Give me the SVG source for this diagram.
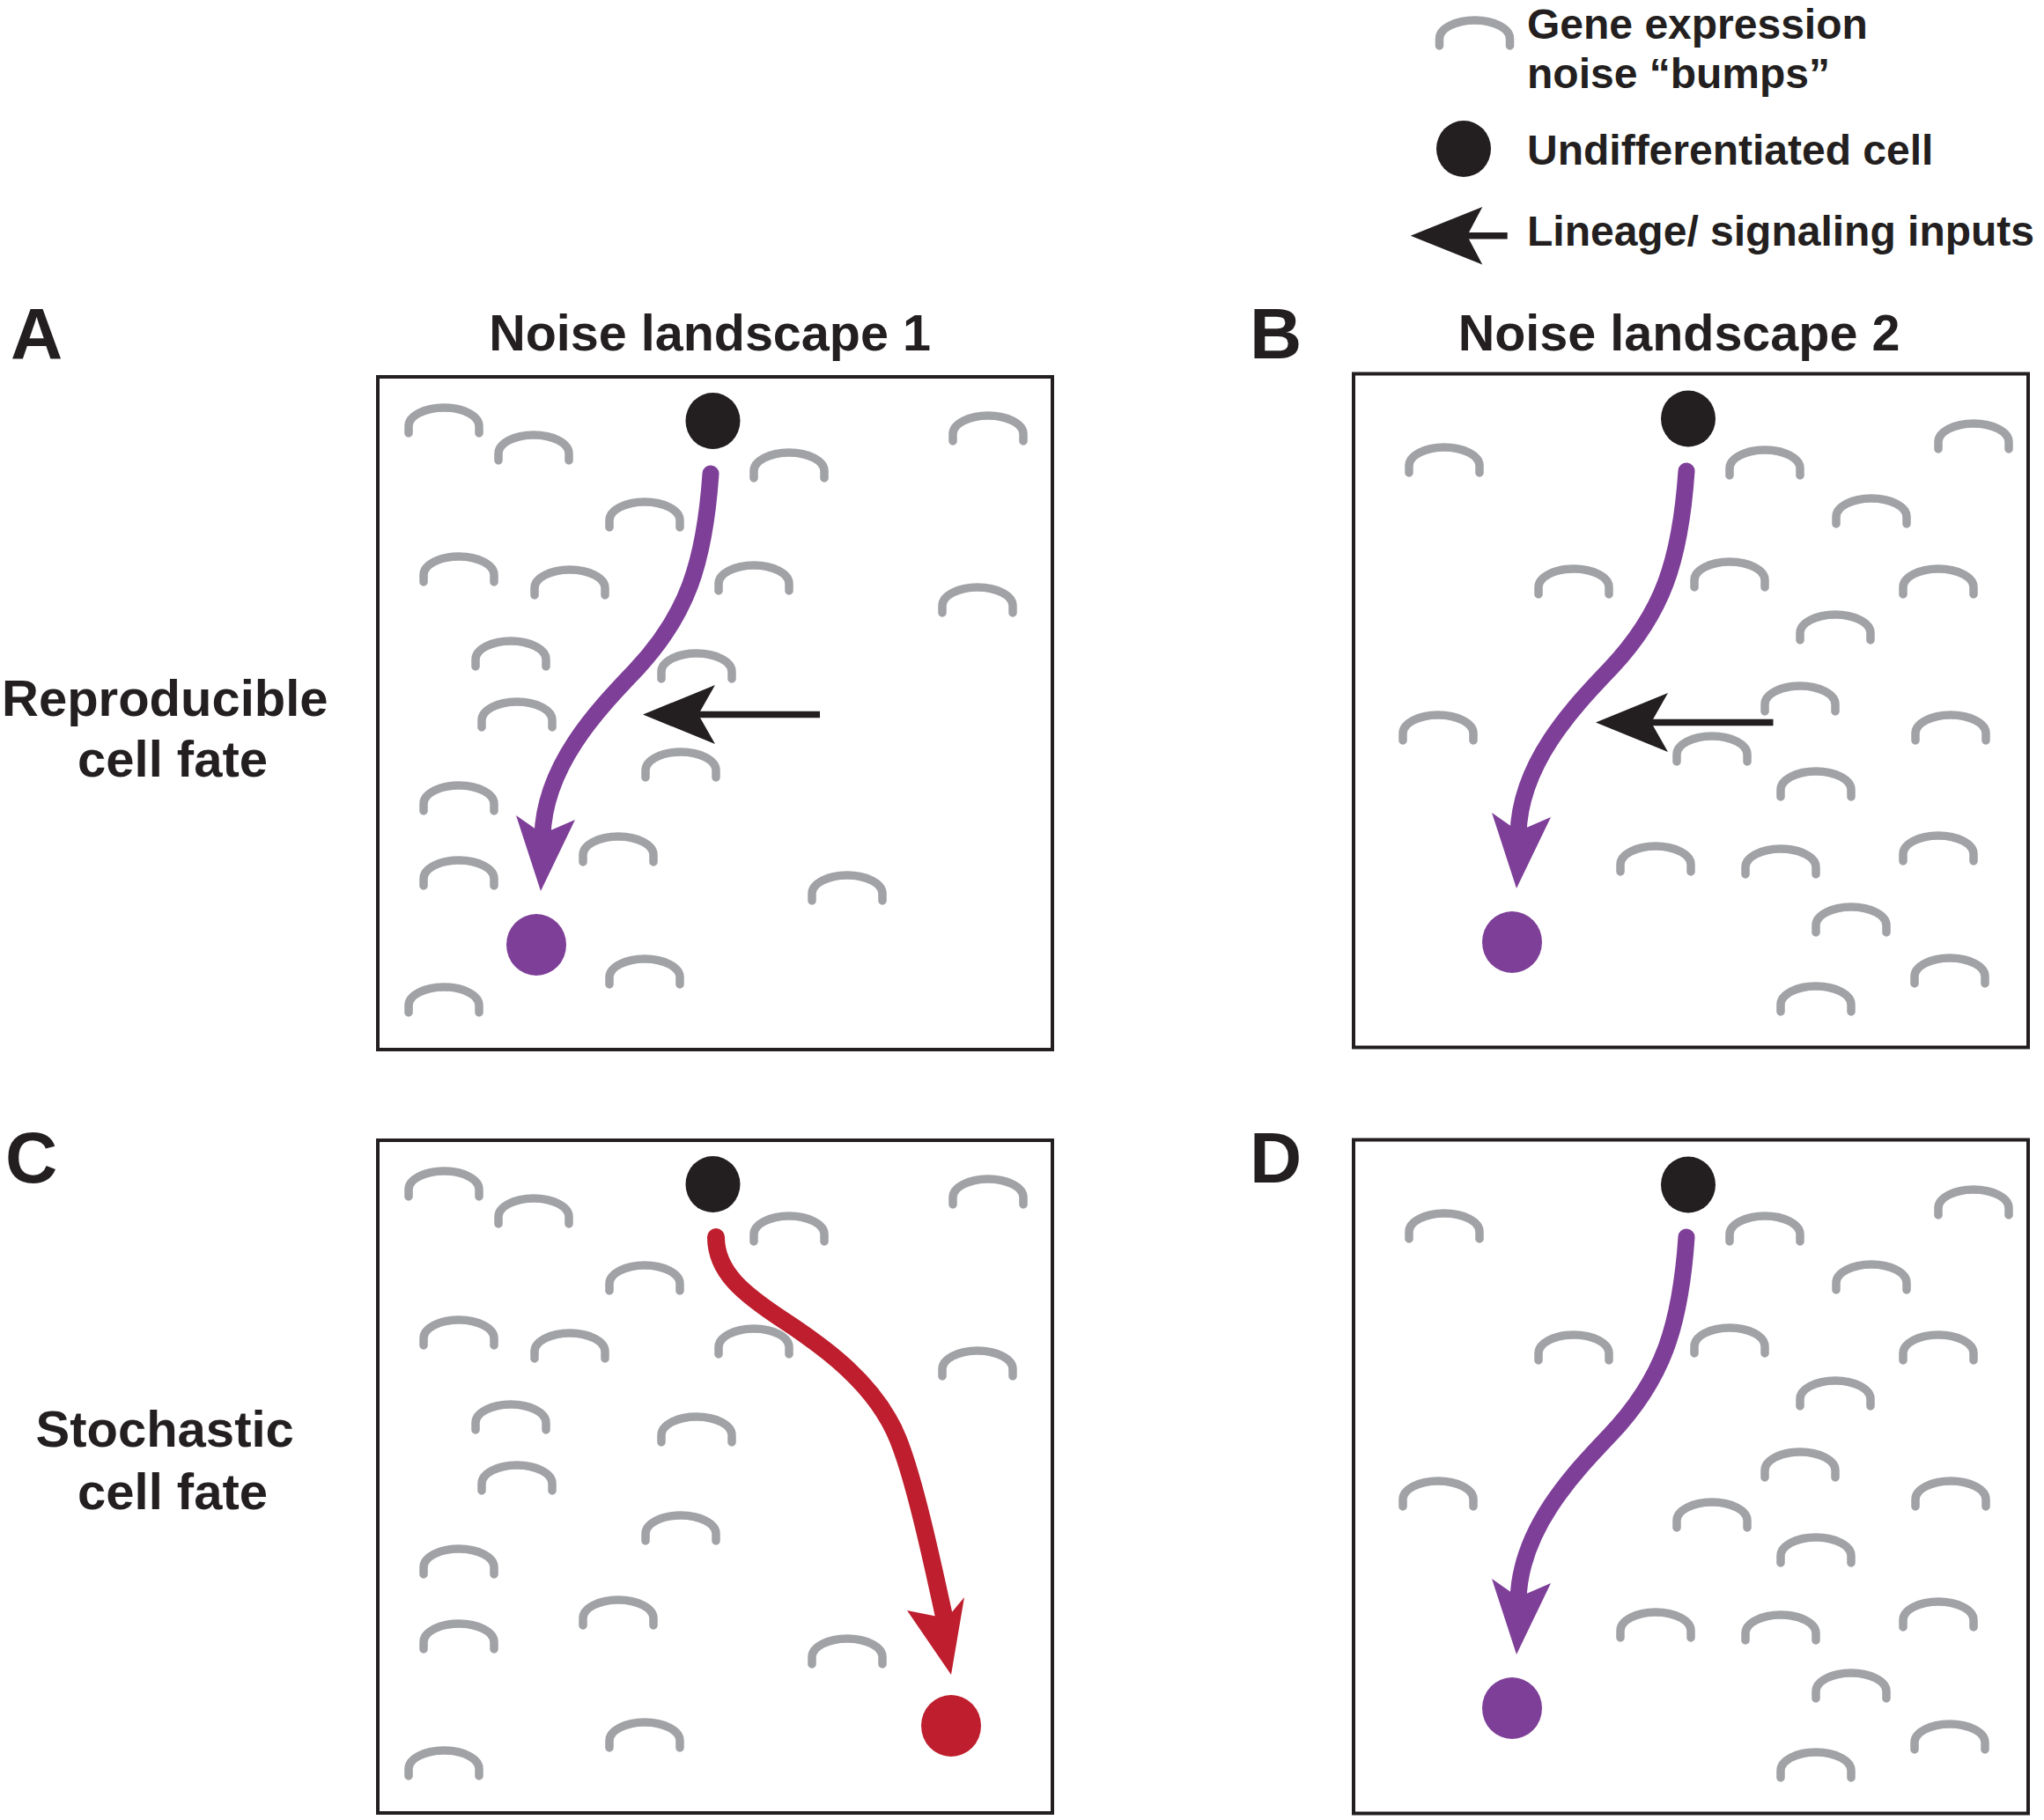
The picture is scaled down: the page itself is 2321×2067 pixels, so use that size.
<svg xmlns="http://www.w3.org/2000/svg" xmlns:xlink="http://www.w3.org/1999/xlink" width="2321" height="2067" viewBox="0 0 2321 2067">
<style>
.t{font-family:"Liberation Sans",Arial,Helvetica,sans-serif;font-weight:bold;fill:#231f20}
.lbl{font-size:82px}
.ttl{font-size:57.5px;text-anchor:middle}
.side{font-size:58px}
.leg{font-size:48px}
.box{fill:none;stroke:#231f20;stroke-width:4}
.bump{fill:none;stroke:#a0a2a5;stroke-width:9.5;stroke-linecap:round}
.cell{fill:#231f20}
.pur{fill:#7e3f98}
.red{fill:#be1e2d}
.pp{fill:none;stroke:#7e3f98;stroke-width:19;stroke-linecap:round}
.rp{fill:none;stroke:#be1e2d;stroke-width:20;stroke-linecap:round}
.head{stroke:none}
.blk{fill:#231f20;stroke:none}
.shaft{stroke:#231f20;stroke-width:7.5;fill:none}
</style>
<defs>
<path id="bump" d="M-40,29 V21 A40,21 0 0 1 40,21 V29"/>
<g id="bumps1" class="bump">
<use xlink:href="#bump" x="504" y="463"/>
<use xlink:href="#bump" x="606" y="494"/>
<use xlink:href="#bump" x="896" y="514"/>
<use xlink:href="#bump" x="1122" y="472"/>
<use xlink:href="#bump" x="732" y="570"/>
<use xlink:href="#bump" x="521" y="632"/>
<use xlink:href="#bump" x="647" y="647"/>
<use xlink:href="#bump" x="856" y="642"/>
<use xlink:href="#bump" x="1110" y="667"/>
<use xlink:href="#bump" x="580" y="728"/>
<use xlink:href="#bump" x="791" y="742"/>
<use xlink:href="#bump" x="587" y="797"/>
<use xlink:href="#bump" x="773" y="854"/>
<use xlink:href="#bump" x="521" y="892"/>
<use xlink:href="#bump" x="702" y="950"/>
<use xlink:href="#bump" x="521" y="977"/>
<use xlink:href="#bump" x="962" y="994"/>
<use xlink:href="#bump" x="732" y="1089"/>
<use xlink:href="#bump" x="504" y="1121"/>
</g>
<g id="bumps2" class="bump">
<use xlink:href="#bump" x="1640" y="508"/>
<use xlink:href="#bump" x="2004" y="511"/>
<use xlink:href="#bump" x="2241" y="481"/>
<use xlink:href="#bump" x="2125" y="566"/>
<use xlink:href="#bump" x="1787" y="646"/>
<use xlink:href="#bump" x="1964" y="638"/>
<use xlink:href="#bump" x="2201" y="646"/>
<use xlink:href="#bump" x="2084" y="698"/>
<use xlink:href="#bump" x="2044" y="779"/>
<use xlink:href="#bump" x="1633" y="812"/>
<use xlink:href="#bump" x="2215" y="812"/>
<use xlink:href="#bump" x="1944" y="836"/>
<use xlink:href="#bump" x="2062" y="876"/>
<use xlink:href="#bump" x="1880" y="961"/>
<use xlink:href="#bump" x="2022" y="964"/>
<use xlink:href="#bump" x="2201" y="949"/>
<use xlink:href="#bump" x="2102" y="1030"/>
<use xlink:href="#bump" x="2214" y="1088"/>
<use xlink:href="#bump" x="2062" y="1120"/>
</g>
</defs>
<rect width="2321" height="2067" fill="#ffffff"/>

<g id="legend">
<use xlink:href="#bump" x="1674.5" y="23" class="bump"/>
<ellipse class="cell" cx="1662" cy="169" rx="31" ry="32"/>
<polygon class="blk" points="1601.7,267.7 1683.3,235 1666,267.7 1683.3,300.5"/>
<line class="shaft" x1="1664" y1="267.7" x2="1711.7" y2="267.7"/>
<text class="t leg" x="1734" y="43.5">Gene expression</text>
<text class="t leg" x="1734" y="100">noise “bumps”</text>
<text class="t leg" x="1734" y="186.7">Undifferentiated cell</text>
<text class="t leg" x="1734" y="279.3">Lineage/ signaling inputs</text>
</g>

<g id="labels">
<text class="t lbl" x="12" y="407">A</text>
<text class="t lbl" x="1419" y="407">B</text>
<text class="t lbl" x="6" y="1343">C</text>
<text class="t lbl" x="1419" y="1343">D</text>
<text class="t ttl" x="806" y="398">Noise landscape 1</text>
<text class="t ttl" x="1906.5" y="398">Noise landscape 2</text>
<text class="t side" x="2" y="813">Reproducible</text>
<text class="t side" x="88" y="882">cell fate</text>
<text class="t side" x="40.5" y="1643">Stochastic</text>
<text class="t side" x="88" y="1714">cell fate</text>
</g>

<g id="panelA">
<rect class="box" x="429" y="428" width="766" height="764"/>
<use xlink:href="#bumps1"/>
<ellipse id="A-start" class="cell" cx="809.5" cy="478" rx="31" ry="32"/>
<ellipse id="A-end" class="pur" cx="609" cy="1073" rx="34" ry="35"/>
</g>

<g id="panelB">
<rect class="box" x="1537" y="424.5" width="766" height="765"/>
<use xlink:href="#bumps2"/>
<ellipse id="B-start" class="cell" cx="1917" cy="475.5" rx="31" ry="32"/>
<ellipse id="B-end" class="pur" cx="1717" cy="1070" rx="34" ry="35"/>
</g>

<g id="panelC">
<rect class="box" x="429" y="1295" width="766" height="764"/>
<use xlink:href="#bumps1" transform="translate(0,867)"/>
<ellipse id="C-start" class="cell" cx="809.5" cy="1345" rx="31" ry="32"/>
<ellipse id="C-end" class="red" cx="1080" cy="1960" rx="34" ry="35"/>
</g>

<g id="panelD">
<rect class="box" x="1537" y="1294.5" width="766" height="765"/>
<use xlink:href="#bumps2" transform="translate(0,870)"/>
<ellipse id="D-start" class="cell" cx="1917" cy="1345.5" rx="31" ry="32"/>
<ellipse id="D-end" class="pur" cx="1717" cy="1940" rx="34" ry="35"/>
</g>

<g id="connectors">
<path class="pp" d="M807,538 C800,640 780,700 720,763 C678,807 618,870 616,950"/>
<polygon class="pur head" points="614,1012 586,926 616,947 653,931"/>
<polygon class="blk" points="730,811.5 812,778 793,811.5 812,845"/>
<line class="shaft" x1="790" y1="811.5" x2="931" y2="811.5"/>

<path class="pp" d="M1915,535 C1908,637 1888,697 1828,760 C1786,804 1726,867 1724,947"/>
<polygon class="pur head" points="1722,1009 1694,923 1724,944 1761,928"/>
<polygon class="blk" points="1812,820.5 1894,787 1875,820.5 1894,854"/>
<line class="shaft" x1="1872" y1="820.5" x2="2013.5" y2="820.5"/>

<path class="rp" d="M813,1405 C813,1445 845,1470 889,1499 C935,1529 995,1572 1020,1635 C1040,1685 1062,1790 1074,1845"/>
<polygon class="red head" points="1080,1902 1030,1829 1075,1838 1095,1814"/>

<path class="pp" d="M1915,1405 C1908,1507 1888,1567 1828,1630 C1786,1674 1726,1737 1724,1817"/>
<polygon class="pur head" points="1722,1879 1694,1793 1724,1814 1761,1798"/>
</g>
</svg>
